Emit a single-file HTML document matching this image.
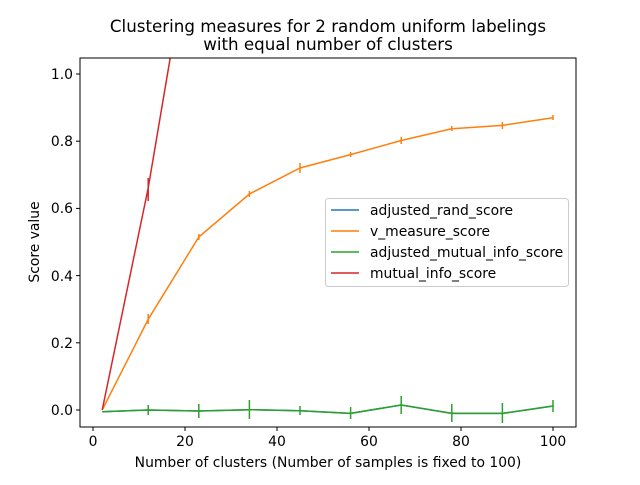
<!DOCTYPE html>
<html><head><meta charset="utf-8"><style>body{margin:0;background:#fff}</style></head><body>
<svg width="640" height="480" xmlns="http://www.w3.org/2000/svg" font-family="DejaVu Sans, Liberation Sans, sans-serif">
<rect width="640" height="480" fill="#fff"/>
<text x="328" y="32" font-size="16.7" text-anchor="middle">Clustering measures for 2 random uniform labelings</text>
<text x="328" y="50" font-size="16.7" text-anchor="middle">with equal number of clusters</text>
<defs><clipPath id="c"><rect x="80" y="58" width="496" height="369"/></clipPath></defs>
<g clip-path="url(#c)" fill="none" stroke-width="1.5">
<polyline stroke="#1f77b4" points="102.2,411.7 148.2,410 198.8,411 249.4,409.7 300,410.7 350.6,413.4 401.2,405 451.8,413.4 502.4,413.4 553,406"/>
<polyline stroke="#ff7f0e" points="102.2,410 148.2,319.3 198.8,237 249.4,194 300,168 350.6,154.6 401.2,140.5 451.8,128.8 502.4,125.4 553,117.7"/>
<g stroke="#ff7f0e"><line x1="148.2" y1="314" x2="148.2" y2="324"/><line x1="198.8" y1="234" x2="198.8" y2="240"/><line x1="249.4" y1="191" x2="249.4" y2="197"/><line x1="300" y1="163" x2="300" y2="173"/><line x1="350.6" y1="152" x2="350.6" y2="157"/><line x1="401.2" y1="137" x2="401.2" y2="144"/><line x1="451.8" y1="126" x2="451.8" y2="131"/><line x1="502.4" y1="122" x2="502.4" y2="129"/><line x1="553" y1="115" x2="553" y2="120"/></g>
<polyline stroke="#d62728" points="102.2,410 148.2,188 198.8,-111"/>
<line stroke="#d62728" x1="148.2" y1="178" x2="148.2" y2="201"/>
<polyline stroke="#2ca02c" points="102.2,411.7 148.2,410 198.8,411 249.4,409.7 300,410.7 350.6,413.4 401.2,405 451.8,413.4 502.4,413.4 553,406"/>
<g stroke="#2ca02c"><line x1="148.2" y1="405" x2="148.2" y2="415"/><line x1="198.8" y1="404" x2="198.8" y2="418"/><line x1="249.4" y1="400" x2="249.4" y2="419"/><line x1="300" y1="406" x2="300" y2="415"/><line x1="350.6" y1="407" x2="350.6" y2="419"/><line x1="401.2" y1="396" x2="401.2" y2="414"/><line x1="451.8" y1="404" x2="451.8" y2="422"/><line x1="502.4" y1="403" x2="502.4" y2="423"/><line x1="553" y1="400" x2="553" y2="412"/></g>
</g>
<rect x="80" y="58" width="496" height="369" fill="none" stroke="#000" stroke-width="1"/>
<g stroke="#000"><line x1="93" y1="427" x2="93" y2="431"/><line x1="185" y1="427" x2="185" y2="431"/><line x1="277" y1="427" x2="277" y2="431"/><line x1="369" y1="427" x2="369" y2="431"/><line x1="461" y1="427" x2="461" y2="431"/><line x1="553" y1="427" x2="553" y2="431"/>
<line x1="76" y1="410" x2="80" y2="410"/><line x1="76" y1="342.8" x2="80" y2="342.8"/><line x1="76" y1="275.6" x2="80" y2="275.6"/><line x1="76" y1="208.4" x2="80" y2="208.4"/><line x1="76" y1="141.2" x2="80" y2="141.2"/><line x1="76" y1="74" x2="80" y2="74"/></g>
<g font-size="13.9" text-anchor="middle"><text x="93" y="446">0</text><text x="185" y="446">20</text><text x="277" y="446">40</text><text x="369" y="446">60</text><text x="461" y="446">80</text><text x="553" y="446">100</text>
<text x="328" y="467">Number of clusters (Number of samples is fixed to 100)</text></g>
<g font-size="13.9" text-anchor="end"><text x="73" y="415">0.0</text><text x="73" y="348">0.2</text><text x="73" y="281">0.4</text><text x="73" y="213">0.6</text><text x="73" y="146">0.8</text><text x="73" y="79">1.0</text></g>
<text font-size="13.9" text-anchor="middle" transform="translate(39,242) rotate(-90)">Score value</text>
<rect x="325.5" y="198.5" width="243" height="88" rx="3" fill="#fff" fill-opacity="0.8" stroke="#ccc"/>
<g stroke-width="1.5"><line x1="331" y1="210" x2="359" y2="210" stroke="#1f77b4"/><line x1="331" y1="231" x2="359" y2="231" stroke="#ff7f0e"/><line x1="331" y1="252" x2="359" y2="252" stroke="#2ca02c"/><line x1="331" y1="273" x2="359" y2="273" stroke="#d62728"/></g>
<g font-size="13.9"><text x="370" y="215">adjusted_rand_score</text><text x="370" y="236">v_measure_score</text><text x="370" y="257">adjusted_mutual_info_score</text><text x="370" y="278">mutual_info_score</text></g>
</svg>
</body></html>
